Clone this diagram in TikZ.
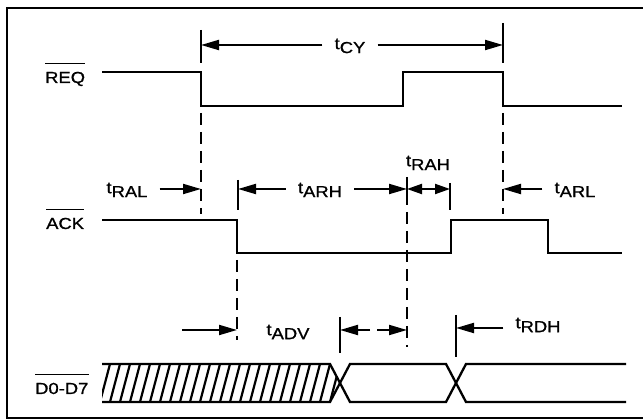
\documentclass[tikz,border=0pt]{standalone}
\usepackage{fontspec}
\setmainfont{Liberation Sans}[FakeStretch=1.15,FakeBold=1]
\usetikzlibrary{arrows.meta}
\tikzset{
    frame/.style = {line width=2pt},
    sig/.style = {line width=2.3pt},
    guide/.style = {line width=2pt,dash pattern=on 12pt off 7pt,dash phase=12pt},
    tick/.style = {line width=1.7pt},
    hatch/.style = {line width=2.2pt},
    dim/.style = {line width=2pt,-{Triangle[length=18pt,width=10pt]}},
    dimboth/.style = {line width=2pt,{Triangle[length=15pt,width=10pt]}-{Triangle[length=15pt,width=10pt]}},
    signame/.style = {inner sep=0pt,anchor=base west,font=\fontsize{16}{18}\selectfont},
    tlabel/.style = {inner xsep=12pt,inner ysep=0pt,font=\fontsize{16}{18}\selectfont}
}
\newcommand*\tsub[1]{t\raisebox{-4pt}{#1}}

\begin{document}
\begin{tikzpicture}[x=1pt,y=-1pt]
        \useasboundingbox (0,0) rectangle (643,419);
        \newcommand*\rhi{72}
        \newcommand*\rlo{106}
        \newcommand*\ahi{220}
        \newcommand*\alo{253}
        \newcommand*\btop{364}
        \newcommand*\bbot{402}
        % Frame
        \draw[frame] (643,8) -| (7,418) -- (643,418);
        % Signal names
        \node[signame] (req) at (45,83) {REQ};
        \node[signame] (ack) at (46,229) {ACK};
        \node[signame] (bus) at (35,394) {D0-D7};
        \foreach \n in {req,ack,bus}
            \draw[tick] ([yshift=8pt]\n.north west) -- ([yshift=8pt]\n.north east);
        % Waveforms
        \draw[sig] (102,\rhi) -| (201,\rlo) -| (403,\rhi) -| (503,\rlo) -- (622,\rlo);
        \draw[sig] (102,\ahi) -| (237,\alo) -| (451,\ahi) -| (548,\alo) -- (622,\alo);
        % Data bus
        \begin{scope}
            \clip (102,\btop) -- (330,\btop) -- (340,383) -- (330,\bbot) -- (102,\bbot) -- cycle;
            \foreach \x in {90,100,...,340}
                \draw[hatch] (\x,\bbot) -- +(10,-38);
        \end{scope}
        \draw[sig] (102,\btop) -- (330,\btop) -- (350,\bbot) -- (446,\bbot) -- (466,\btop) -- (626,\btop);
        \draw[sig] (102,\bbot) -- (330,\bbot) -- (350,\btop) -- (446,\btop) -- (466,\bbot) -- (626,\bbot);
        % Guides
        \draw[guide] (201,\rlo) -- (201,214);
        \draw[guide] (503,\rlo) -- (503,214);
        \draw[guide] (237,\alo) -- (237,340);
        \draw[guide] (407,205) -- (407,347);
        % Ticks
        \draw[tick] (201,30) -- (201,63);
        \draw[tick] (503,23) -- (503,63);
        \draw[tick] (238,180) -- (238,210);
        \draw[tick] (450,183) -- (450,210);
        \draw[tick] (407,177) -- (407,205);
        \draw[tick] (340,317) -- (340,353);
        \draw[tick] (456,315) -- (456,357);
        % Arrow ends
        \path (201,45) coordinate (cya) (503,45) coordinate (cyb)
            (201,189) coordinate (ral)
            (238,189) coordinate (arha) (407,189) coordinate (arhb)
            (450,189) coordinate (rah)
            (503,189) coordinate (arl)
            (182,330) coordinate (advs) (237,330) coordinate (adv)
            (370,330) coordinate (dva) (340,330) coordinate (dvb)
            (377,330) coordinate (dvc) (407,330) coordinate (dvd)
            (456,328) coordinate (rdh)
        ;
        % Timing labels
        \node[tlabel] (tcy) at (350,46) {\tsub{CY}};
        \node[tlabel] (tral) at (127,190) {\tsub{RAL}};
        \node[tlabel] (tarh) at (320,190) {\tsub{ARH}};
        \node[tlabel] (trah) at (428,163) {\tsub{RAH}};
        \node[tlabel] (tarl) at (575,190) {\tsub{ARL}};
        \node[tlabel] (tadv) at (288,332) {\tsub{ADV}};
        \node[tlabel] (trdh) at (538,325) {\tsub{RDH}};
        % Dimension arrows
        \draw[dim] (tcy.west |- cya) -- (cya);
        \draw[dim] (tcy.east |- cyb) -- (cyb);
        \draw[dim] (tral.east |- ral) -- (ral);
        \draw[dim] (tarh.west |- arha) -- (arha);
        \draw[dim] (tarh.east |- arhb) -- (arhb);
        \draw[dimboth] (arhb) -- (rah);
        \draw[dim] (tarl.west |- arl) -- (arl);
        \draw[dim] (advs) -- (adv);
        \draw[dim] (dva) -- (dvb);
        \draw[dim] (dvc) -- (dvd);
        \draw[dim] (trdh.west |- rdh) -- (rdh);
    \end{tikzpicture}
\end{document}
